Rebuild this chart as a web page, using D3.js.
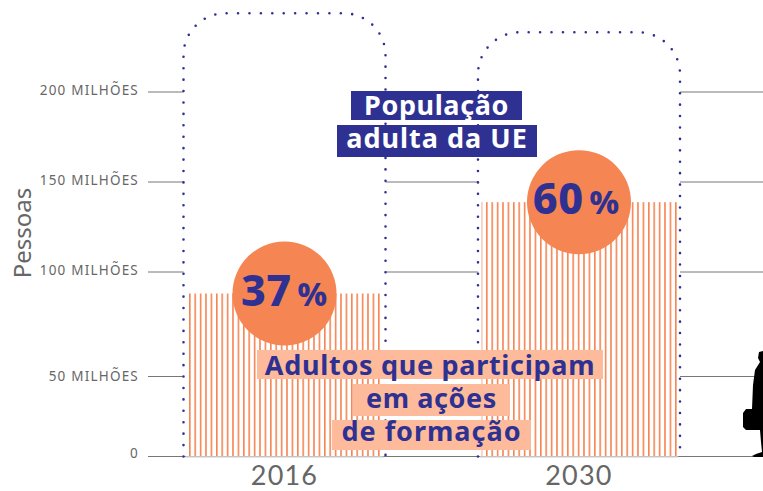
<!DOCTYPE html>
<html><head><meta charset="utf-8">
<script src="https://cdn.jsdelivr.net/npm/d3@7/dist/d3.min.js"></script>
<style>html,body{margin:0;background:#fff}svg{display:block}text{font-family:"Noto Sans",sans-serif}</style>
</head><body><svg id="c" width="763" height="491"></svg>
<script>
const years = ["2016","2030"];
const population = [243.5,233];
const adults = [89.7,138.8];
const shares = ["37","60"];
const yTicks = [0,50,100,150,200];
const yTickLabels = ["0","50 MILHÕES","100 MILHÕES","150 MILHÕES","200 MILHÕES"];
const popLabelLines = ["População","adulta da UE"];
const adultLabelLines = ["Adultos que participam","em ações","de formação"];

const NAVY="#2e3192", ORANGE="#f58553", PEACH="#fdbb9b", GREY="#666";
const svg=d3.select("#c");
const y=d3.scaleLinear().domain([0,50,100,150,200,250]).range([456.5,376.5,272,182,92,1.5]);
const x=d3.scaleBand().domain(years).range([183.5,680]).paddingInner(0.314).paddingOuter(0);
const bw=x.bandwidth();

const defs=svg.append("defs");
const pat=defs.append("pattern").attr("id","st").attr("patternUnits","userSpaceOnUse").attr("width",5.4).attr("height",10);
pat.append("rect").attr("x",0).attr("width",1.6).attr("height",10).attr("fill",ORANGE);

// grid
svg.append("g").selectAll("line").data(yTicks).join("line")
 .attr("x1",148).attr("x2",763).attr("y1",d=>y(d)).attr("y2",d=>y(d))
 .attr("stroke","#777").attr("stroke-width",1);
// columns hide grid
function colPath(d,i){
 const l=x(years[i]),r=l+bw,t=y(d),b=y(0),c=42;
 return `M${l},${b}V${t+c}A${c},${c} 0 0 1 ${l+c},${t}H${r-c}A${c},${c} 0 0 1 ${r},${t+c}V${b}`;
}
svg.append("g").selectAll("path").data(population).join("path")
 .attr("d",colPath).attr("fill","#fff");
svg.append("line").attr("x1",148).attr("x2",763).attr("y1",y(0)).attr("y2",y(0)).attr("stroke","#777").attr("stroke-width",1);
// bars
svg.append("g").selectAll("rect").data(adults).join("rect")
 .attr("x",(d,i)=>x(years[i])+3.6).attr("y",d=>y(d)).attr("width",bw-6.4).attr("height",d=>y(0)-y(d)).attr("fill","url(#st)");
svg.append("g").selectAll("line").data(years).join("line")
 .attr("x1",d=>x(d)+2).attr("x2",d=>x(d)+bw-2).attr("y1",y(0)+.5).attr("y2",y(0)+.5).attr("stroke","#ddd").attr("stroke-width",1.5);
// dotted
svg.append("g").selectAll("path").data(population).join("path")
 .attr("d",colPath).attr("fill","none").attr("stroke",NAVY).attr("stroke-width",2.6)
 .attr("stroke-linecap","round").attr("stroke-dasharray","0 11.42");

// ticks
svg.append("g").selectAll("text").data(yTicks).join("text")
 .attr("x",139).attr("y",(d,i)=>y(d)+(i==0?1.5:i==1?4.5:3)).attr("text-anchor","end")
 .attr("font-size",13.5).attr("letter-spacing",1.2).attr("fill",GREY).text((d,i)=>yTickLabels[i]);
svg.append("text").attr("transform","translate(31,233) rotate(-90)").attr("text-anchor","middle")
 .attr("font-size",24).attr("fill",GREY).text("Pessoas");
svg.append("g").selectAll("text").data(years).join("text")
 .attr("x",d=>x(d)+bw/2).attr("y",485.2).attr("text-anchor","middle").attr("font-size",27).attr("letter-spacing",1.2).attr("fill",GREY).style("font-family","Lato").text(d=>d);

// circles
const g=svg.append("g").selectAll("g").data(adults).join("g")
 .attr("transform",(d,i)=>`translate(${x(years[i])+bw/2},${y(d)})`);
g.append("circle").attr("r",52).attr("fill",ORANGE);
const t=g.append("text").attr("text-anchor","middle").attr("x",(d,i)=>i?-3:-.5).attr("y",12).attr("fill",NAVY).attr("font-weight",800);
t.append("tspan").attr("font-size",43).attr("letter-spacing",.5).text((d,i)=>shares[i]);
t.append("tspan").attr("font-size",32).attr("dx",6).text("%");

// labels
function label(lines,rects,bg,fg,fs){
 const s=svg.append("g");
 lines.forEach((txt,i)=>{
  const r=rects[i];
  s.append("rect").attr("x",r[0]).attr("y",r[1]).attr("width",r[2]-r[0]).attr("height",r[3]-r[1]).attr("fill",bg);
  s.append("text").attr("x",(r[0]+r[2])/2).attr("y",r[4]).attr("text-anchor","middle").attr("font-size",fs).attr("font-weight",700).attr("fill",fg).attr("letter-spacing",r[5]).text(txt);
 });
}
label(popLabelLines,[[351,91,522,120,115,.6],[337,125,537,157,148,1],[]].slice(0,2),NAVY,"#fff",27);
label(adultLabelLines,[[257,350,603,379,375,.7],[353,384,510,416,408,.6],[332,420,531,450,441,1]],PEACH,NAVY,27);

// silhouette
svg.append("path").attr("fill","#000").attr("d",
 "M763,351 L759,352 L758,358 L760,362 L755,370 L753,385 L752,409 L746,409 L743,413 L743,427 L746,430 L760,430 L761,442 L762,452 L756,454 L752,456 L754,457 L763,457 Z");
</script></body></html>
